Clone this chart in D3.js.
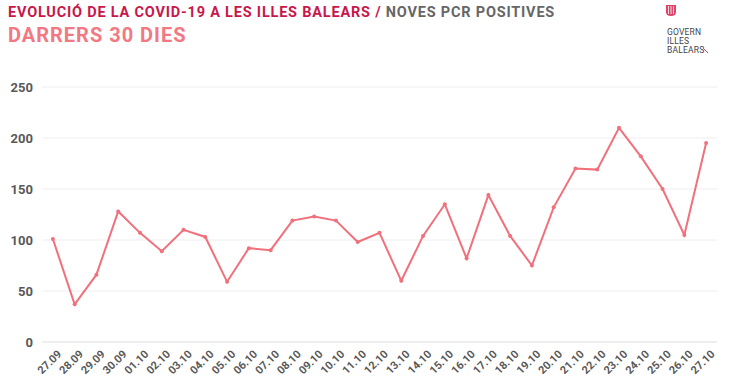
<!DOCTYPE html>
<html>
<head>
<meta charset="utf-8">
<script src="https://cdn.jsdelivr.net/npm/d3@7"></script>
<style>
  body { margin: 0; background: #fff; }
  svg { display: block; font-family: Roboto, "Noto Sans", sans-serif; }
</style>
</head>
<body>
<div class="chart"></div>
<script>
const dates = ['27.09','28.09','29.09','30.09','01.10','02.10','03.10','04.10','05.10','06.10',
  '07.10','08.10','09.10','10.10','11.10','12.10','13.10','14.10','15.10','16.10',
  '17.10','18.10','19.10','20.10','21.10','22.10','23.10','24.10','25.10','26.10','27.10'];
const positives = [101, 37, 66, 128, 107, 89, 110, 103, 59, 92,
  90, 119, 123, 119, 98, 107, 60, 104, 135, 82,
  144, 104, 75, 132, 170, 169, 210, 182, 150, 105, 195];
const yTicks = [0, 50, 100, 150, 200, 250];

const width = 730, height = 385;
const crimson = '#c8174a', salmon = '#f27883', lineColor = '#f0707c', grey = '#595959';
const margin = { top: 87, right: 13, bottom: 43, left: 42 };

const svg = d3.select('.chart')
  .append('svg')
  .attr('width', width)
  .attr('height', height);

// titles
const title = svg.append('text')
  .attr('x', 8).attr('y', 17)
  .attr('font-size', '14.5px')
  .attr('font-weight', 'bold')
  .attr('letter-spacing', '0.8px');
title.append('tspan').attr('fill', crimson).text('EVOLUCIÓ DE LA COVID-19 A LES ILLES BALEARS / ');
title.append('tspan').attr('fill', '#666').text('NOVES PCR POSITIVES');

svg.append('text')
  .attr('x', 8).attr('y', 42)
  .attr('font-size', '20px')
  .attr('font-weight', 'bold')
  .attr('letter-spacing', '1px')
  .attr('fill', salmon)
  .text('DARRERS 30 DIES');

// logo
const logo = svg.append('g').attr('transform', 'translate(666,5)');
logo.append('path')
  .attr('d', 'M0,0 H10 V7 Q10,11 5,11 Q0,11 0,7 Z')
  .attr('fill', '#e0436a');
logo.selectAll('line.bar')
  .data([2.5, 5, 7.5])
  .join('line')
  .attr('x1', d => d).attr('x2', d => d)
  .attr('y1', 1).attr('y2', 9)
  .attr('stroke', '#fff').attr('stroke-width', 0.8);
['GOVERN', 'ILLES', 'BALEARS'].forEach((t, i) => {
  logo.append('text')
    .attr('x', 1).attr('y', 30 + i * 9)
    .attr('font-size', '8.5px')
    .attr('letter-spacing', '0.2px')
    .attr('fill', '#444')
    .text(t);
});
logo.append('line')
  .attr('x1', 37).attr('y1', 43).attr('x2', 42).attr('y2', 48)
  .attr('stroke', '#e0436a').attr('stroke-width', 1);

// scales
const x = d3.scalePoint()
  .domain(dates)
  .range([margin.left, width - margin.right])
  .padding(0.5);
const y = d3.scaleLinear()
  .domain([0, 250])
  .range([height - margin.bottom, margin.top]);

// grid
svg.append('g')
  .selectAll('line')
  .data(yTicks)
  .join('line')
  .attr('x1', margin.left)
  .attr('x2', width - margin.right)
  .attr('y1', d => y(d))
  .attr('y2', d => y(d))
  .attr('stroke', d => d === 0 ? '#ddd' : '#eee')
  .attr('stroke-width', 1);

// y axis
const yAxis = svg.append('g')
  .attr('transform', `translate(${margin.left - 9},0)`)
  .call(d3.axisLeft(y).tickValues(yTicks).tickSize(0).tickPadding(0));
yAxis.select('.domain').remove();
yAxis.selectAll('text')
  .attr('fill', grey)
  .attr('font-size', '13px')
  .attr('font-weight', 'bold')
  .attr('font-family', 'Roboto, sans-serif');

// x axis
const xAxis = svg.append('g')
  .attr('transform', `translate(0,${height - margin.bottom})`)
  .call(d3.axisBottom(x).tickSize(0).tickPadding(0));
xAxis.select('.domain').remove();
xAxis.selectAll('text')
  .attr('fill', grey)
  .attr('font-size', '11px')
  .attr('font-weight', 'bold')
  .attr('font-family', 'Roboto, sans-serif')
  .attr('text-anchor', 'end')
  .attr('dy', '0.35em')
  .attr('transform', 'translate(6,10) rotate(-45)');

// line
const line = d3.line()
  .x((d, i) => x(dates[i]))
  .y(d => y(d));
svg.append('path')
  .datum(positives)
  .attr('d', line)
  .attr('fill', 'none')
  .attr('stroke', lineColor)
  .attr('stroke-width', 2);

svg.append('g')
  .selectAll('circle')
  .data(positives)
  .join('circle')
  .attr('cx', (d, i) => x(dates[i]))
  .attr('cy', d => y(d))
  .attr('r', 2)
  .attr('fill', lineColor);
</script>
</body>
</html>
